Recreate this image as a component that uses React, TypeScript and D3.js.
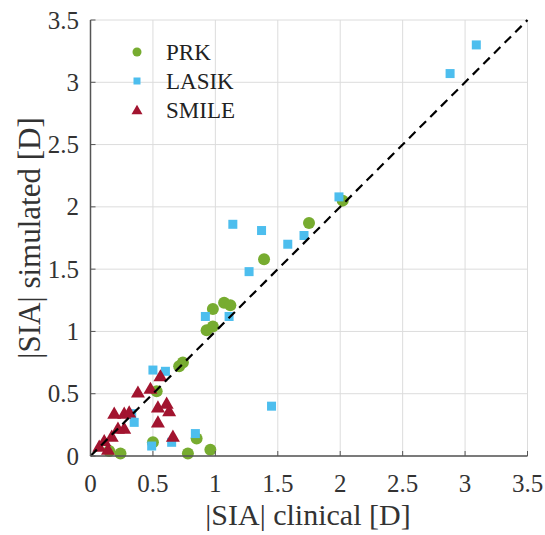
import React from "react";
import * as d3 from "d3";

const prkX = [0.15, 0.24, 0.50, 0.53, 0.71, 0.74, 0.78, 0.85, 0.96, 0.93, 0.98, 0.98, 1.07, 1.12, 1.39, 1.75, 2.02];
const prkY = [0.04, 0.02, 0.11, 0.52, 0.72, 0.75, 0.02, 0.14, 0.05, 1.01, 1.04, 1.18, 1.23, 1.21, 1.58, 1.87, 2.05];

const lasikX = [0.33, 0.35, 0.49, 0.50, 0.60, 0.65, 0.84, 0.92, 1.11, 1.14, 1.27, 1.37, 1.45, 1.58, 1.71, 1.99, 2.88, 3.09];
const lasikY = [0.34, 0.27, 0.08, 0.69, 0.68, 0.11, 0.18, 1.12, 1.12, 1.86, 1.48, 1.81, 0.40, 1.70, 1.77, 2.08, 3.07, 3.30];

const smileX = [0.07, 0.11, 0.14, 0.17, 0.19, 0.22, 0.27, 0.27, 0.31, 0.38, 0.48, 0.54, 0.56, 0.54, 0.61, 0.63, 0.66];
const smileY = [0.075, 0.12, 0.05, 0.155, 0.34, 0.22, 0.22, 0.34, 0.35, 0.51, 0.54, 0.39, 0.64, 0.27, 0.42, 0.36, 0.155];

const ticks = [0, 0.5, 1, 1.5, 2, 2.5, 3, 3.5];
const tickLabels = ["0", "0.5", "1", "1.5", "2", "2.5", "3", "3.5"];
const seriesNames = ["PRK", "LASIK", "SMILE"];
const colors = ["#77AC30", "#4DBEEE", "#A2142F"];

const W = 545;
const H = 535;
const FONT = "Liberation Serif, Times New Roman, serif";

function Marker({ kind, cx, cy, s, color }: { kind: number; cx: number; cy: number; s: number; color: string }) {
  if (kind === 0) return <circle cx={cx} cy={cy} r={s / 2} fill={color} />;
  if (kind === 1) return <rect x={cx - s / 2} y={cy - s / 2} width={s} height={s} fill={color} />;
  const sym = d3.symbol().type(d3.symbolTriangle).size(s * s * 0.433)();
  return <path d={sym || ""} transform={`translate(${cx},${cy + 1})`} fill={color} />;
}

export default function App() {
  const x = d3.scaleLinear().domain([0, 3.5]).range([90.5, 527.5]);
  const y = d3.scaleLinear().domain([0, 3.5]).range([456, 20]);
  const series = [
    { xs: prkX, ys: prkY },
    { xs: lasikX, ys: lasikY },
    { xs: smileX, ys: smileY },
  ];
  const legendY = [52, 81, 110];
  const txt = { fontFamily: FONT };
  return (
    <svg width={W} height={H} style={{ position: "absolute", left: 0, top: 0, background: "#fff", fontFamily: FONT }}>
      <rect x={0} y={0} width={W} height={H} fill="#fff" />
      {ticks.map((t, i) => (
        <g key={"g" + i}>
          <line x1={x(t)} x2={x(t)} y1={y(0)} y2={y(3.5)} stroke="#dcdcdc" strokeWidth={1} />
          <line x1={x(0)} x2={x(3.5)} y1={y(t)} y2={y(t)} stroke="#dcdcdc" strokeWidth={1} />
        </g>
      ))}
      {series.map((s, k) =>
        s.xs.map((v, i) => (
          <Marker key={`m${k}-${i}`} kind={k} cx={x(v)} cy={y(s.ys[i])} s={k === 0 ? 12 : k === 1 ? 9 : 14} color={colors[k]} />
        ))
      )}
      <line x1={x(0)} y1={y(0)} x2={x(3.5)} y2={y(3.5)} stroke="#000" strokeWidth={2.2} strokeDasharray="9,6" />
      <line x1={x(0)} x2={x(0)} y1={y(0)} y2={y(3.5)} stroke="#555" strokeWidth={1.5} />
      <line x1={x(0)} x2={x(3.5)} y1={y(0)} y2={y(0)} stroke="#555" strokeWidth={1.5} />
      {ticks.map((t, i) => (
        <g key={"t" + i}>
          <line x1={x(t)} x2={x(t)} y1={y(0)} y2={y(0) - 5} stroke="#555" strokeWidth={1} />
          <line x1={x(0)} x2={x(0) + 5} y1={y(t)} y2={y(t)} stroke="#555" strokeWidth={1} />
          <text x={x(t)} y={492} textAnchor="middle" style={txt} fontSize={25} fill="#333">
            {tickLabels[i]}
          </text>
          <text x={79} y={y(t) + 8.5} textAnchor="end" style={txt} fontSize={25} fill="#333">
            {tickLabels[i]}
          </text>
        </g>
      ))}
      <text x={308} y={525} textAnchor="middle" style={txt} fontSize={30} fill="#333">
        |SIA| clinical [D]
      </text>
      <text transform={`translate(40,238) rotate(-90)`} textAnchor="middle" style={txt} fontSize={31} fill="#333">
        |SIA| simulated [D]
      </text>
      {seriesNames.map((n, k) => (
        <g key={"l" + k}>
          <Marker kind={k} cx={137} cy={legendY[k]} s={k === 0 ? 9 : k === 1 ? 7 : 11} color={colors[k]} />
          <text x={166} y={legendY[k] + 8} style={txt} fontSize={23} fill="#222">
            {n}
          </text>
        </g>
      ))}
    </svg>
  );
}
